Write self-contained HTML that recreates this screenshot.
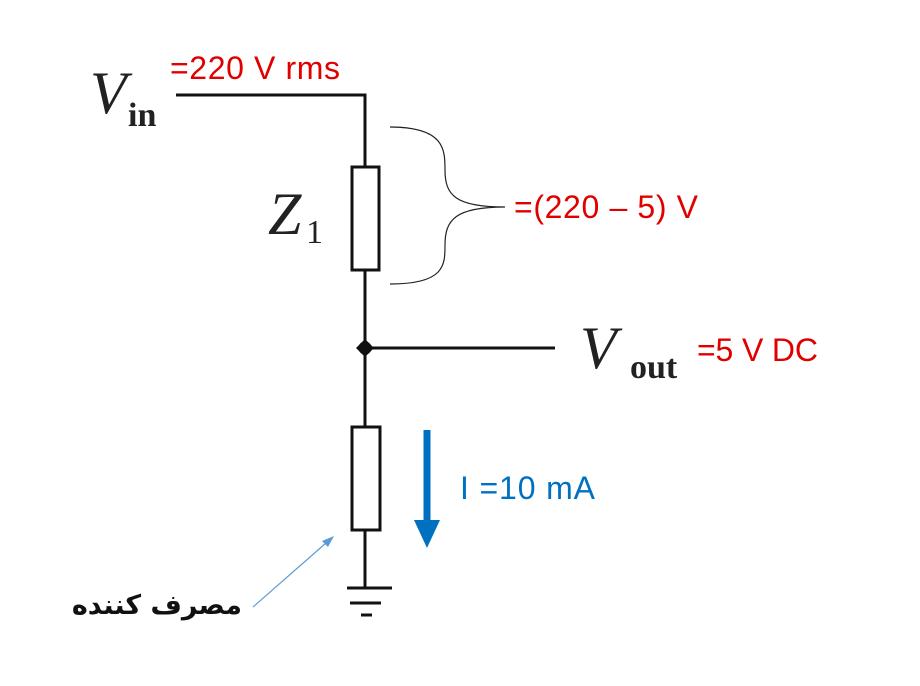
<!DOCTYPE html>
<html><head><meta charset="utf-8"><style>
body{margin:0;background:#fff;width:920px;height:686px;overflow:hidden;position:relative}
svg{display:block}
.fa{position:absolute;left:40px;top:587px;width:202px;text-align:right;direction:rtl;font-family:"DejaVu Sans",sans-serif;font-size:27px;font-weight:bold;color:#111;line-height:38px;white-space:nowrap}
</style></head><body>
<svg width="920" height="686" viewBox="0 0 920 686" xmlns="http://www.w3.org/2000/svg">
<g stroke="#111" stroke-width="3" fill="none">
<polyline points="176,95 365,95 365,167"/>
<rect x="352" y="167" width="27" height="103" fill="#fff"/>
<line x1="365" y1="270" x2="365" y2="427"/>
<line x1="365" y1="348" x2="555" y2="348"/>
<rect x="352" y="427" width="28" height="103" fill="#fff"/>
<line x1="365" y1="530" x2="365" y2="588"/>
<line x1="347" y1="588" x2="392" y2="588"/>
<line x1="350" y1="603" x2="381" y2="603"/>
<line x1="361" y1="615" x2="372" y2="615"/>
</g>
<polygon points="365,339 374,348 365,357 356,348" fill="#111"/>
<circle cx="365" cy="348" r="6.5" fill="#111"/>
<path d="M390,127 C445,127 445,150 445,170 C445,195 455,207 505,207 C455,207 445,220 445,245 C445,265 445,284 390,284" stroke="#222" stroke-width="1.2" fill="none"/>
<line x1="427" y1="430" x2="427" y2="522" stroke="#0070c0" stroke-width="7"/>
<polygon points="414,520 440,520 427,548" fill="#0070c0"/>
<line x1="253" y1="607" x2="326" y2="543" stroke="#5b9bd5" stroke-width="1.2"/>
<polygon points="334,536 322,541 328,547" fill="#5b9bd5"/>
<g font-family="Liberation Serif, serif" fill="#222">
<text x="90" y="113" font-size="60" font-style="italic">V</text>
<text x="128" y="126" font-size="34" font-weight="bold">in</text>
<text x="268" y="234" font-size="60" font-style="italic">Z</text>
<text x="306" y="243" font-size="34">1</text>
<text x="580" y="368" font-size="60" font-style="italic">V</text>
<text x="630" y="378" font-size="34" font-weight="bold">out</text>
</g>
<g font-family="Liberation Sans, sans-serif" font-size="32" fill="#e00000">
<text x="170" y="79" textLength="170">=220 V rms</text>
<text x="514" y="218" textLength="184">=(220 – 5) V</text>
<text x="697" y="361" textLength="121">=5 V DC</text>
</g>
<text x="460" y="499" font-family="Liberation Sans, sans-serif" font-size="32" fill="#0070c0" textLength="135">I =10 mA</text>
</svg>
<div class="fa">مصرف کننده</div>
</body></html>
